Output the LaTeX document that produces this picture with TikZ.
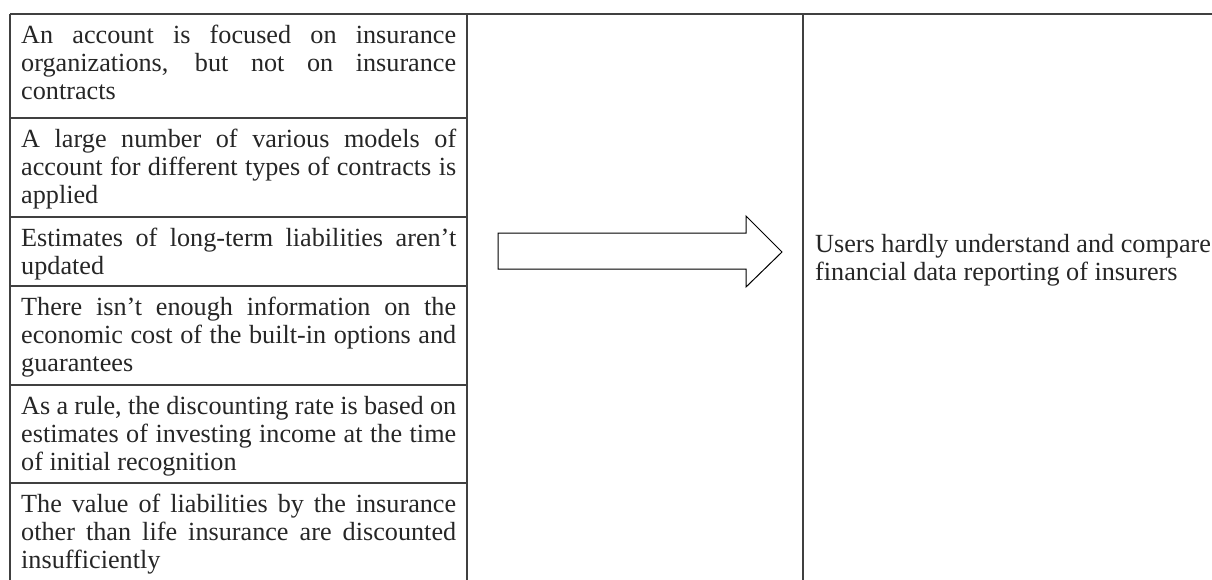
\documentclass[tikz,border=0pt]{standalone}
\usepackage{fontspec}
\setmainfont{Liberation Serif}
\begin{document}
\begin{tikzpicture}[x=1pt,y=-1pt,
  rule/.style={draw=black!75,line width=1.3pt},
  cell/.style={anchor=north west,inner sep=0pt,text width=435pt,align=justify,
    font=\fontsize{26.2}{28}\selectfont,text=black!85},
  restext/.style={anchor=north west,inner sep=0pt,align=left,
    font=\fontsize{26.2}{28}\selectfont,text=black!85},
  bigarrow/.style={draw=black,line width=1pt,fill=white,line join=miter}]
\useasboundingbox (0,0) rectangle (1212,580);
% table rules
\draw[rule] (10,14) -- (1212,14);
\draw[rule] (10,14) -- (10,580);
\draw[rule] (467,14) -- (467,580);
\draw[rule] (803,14) -- (803,580);
\foreach \yy in {118,217,286,385,483} \draw[rule] (10,\yy) -- (467,\yy);
% left column texts
\node[cell] (t1) at (21,23.5) {\strut An account is focused on insurance\linebreak organizations, but not on insurance\linebreak contracts};
\node[cell] (t2) at (21,127.5) {\strut A large number of various models of\linebreak account for different types of contracts is\linebreak applied};
\node[cell] (t3) at (21,226.5) {\strut Estimates of long-term liabilities aren’t\linebreak updated};
\node[cell] (t4) at (21,295.5) {\strut There isn’t enough information on the\linebreak economic cost of the built-in options and\linebreak guarantees};
\node[cell] (t5) at (21,394.5) {\strut As a rule, the discounting rate is based on\linebreak estimates of investing income at the time\linebreak of initial recognition};
\node[cell] (t6) at (21,492.5) {\strut The value of liabilities by the insurance\linebreak other than life insurance are discounted\linebreak insufficiently};
% arrow
\draw[bigarrow] (498,233) -- (746,233) -- (746,216) -- (782,252) -- (746,287) -- (746,269) -- (498,269) -- cycle;
% result
\node[restext] (res) at (815,232.5) {\strut Users hardly understand and compare\\financial data reporting of insurers};
\end{tikzpicture}
\end{document}
